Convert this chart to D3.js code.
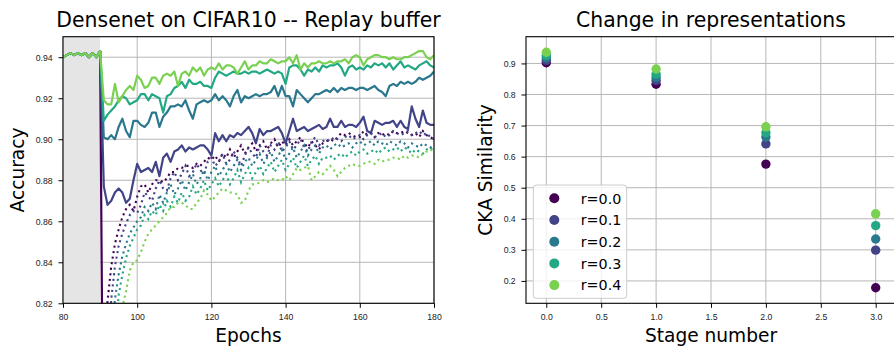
<!DOCTYPE html>
<html>
<head>
<meta charset="utf-8">
<script src="https://cdn.jsdelivr.net/npm/d3@7"></script>
<style>
  html, body { margin: 0; padding: 0; background: #fff; }
  svg { display: block; font-family: "DejaVu Sans", sans-serif; }
  .tick text { font-size: 8.7px; fill: #222; }
  .tick line { stroke: #000; }
</style>
</head>
<body>
<svg id="chart" width="894" height="346"></svg>
<script>
// ---- data ----
var ratios = ["r=0.0", "r=0.1", "r=0.2", "r=0.3", "r=0.4"];
var colors = ["#440154", "#414487", "#2a788e", "#22a884", "#7ad151"];

// epochs 80..90, shared by every run before the switch
var pretrainEpochs = [80, 81, 82, 83, 84, 85, 86, 87, 88, 89, 90];
var pretrainAcc = [0.940, 0.941, 0.942, 0.941, 0.942, 0.941, 0.942, 0.940, 0.942, 0.940, 0.943];

// solid lines, epochs 91..180 (r=0.0 falls below the axis right after the switch)
var solidR0 = [0.700];
var solidR1 = [
  0.877, 0.868, 0.870, 0.874, 0.876, 0.874, 0.869, 0.871, 0.880, 0.888,
  0.884, 0.885, 0.886, 0.884, 0.889, 0.882, 0.891, 0.893, 0.889, 0.894,
  0.895, 0.897, 0.894, 0.896, 0.895, 0.896, 0.897, 0.897, 0.895, 0.892,
  0.903, 0.899, 0.902, 0.899, 0.902, 0.901, 0.903, 0.902, 0.904, 0.906,
  0.903, 0.898, 0.905, 0.902, 0.904, 0.904, 0.905, 0.906, 0.903, 0.898,
  0.904, 0.910, 0.904, 0.905, 0.906, 0.904, 0.905, 0.906, 0.907, 0.905,
  0.906, 0.910, 0.906, 0.906, 0.909, 0.906, 0.907, 0.907, 0.906, 0.908,
  0.911, 0.904, 0.903, 0.909, 0.908, 0.907, 0.908, 0.908, 0.909, 0.906,
  0.909, 0.906, 0.905, 0.916, 0.910, 0.906, 0.914, 0.908, 0.907, 0.907];
var solidR2 = [
  0.901, 0.900, 0.902, 0.900, 0.906, 0.910, 0.904, 0.901, 0.909, 0.909,
  0.907, 0.906, 0.908, 0.913, 0.913, 0.906, 0.911, 0.913, 0.916, 0.916,
  0.917, 0.916, 0.919, 0.914, 0.910, 0.917, 0.918, 0.919, 0.918, 0.919,
  0.922, 0.919, 0.921, 0.919, 0.916, 0.921, 0.924, 0.918, 0.921, 0.920,
  0.921, 0.922, 0.921, 0.922, 0.922, 0.923, 0.926, 0.921, 0.926, 0.921,
  0.921, 0.916, 0.924, 0.922, 0.920, 0.918, 0.920, 0.922, 0.922, 0.923,
  0.924, 0.923, 0.925, 0.923, 0.925, 0.924, 0.925, 0.925, 0.924, 0.925,
  0.925, 0.924, 0.925, 0.926, 0.924, 0.923, 0.921, 0.926, 0.927, 0.926,
  0.928, 0.927, 0.928, 0.927, 0.928, 0.930, 0.929, 0.930, 0.931, 0.933];
var solidR3 = [
  0.909, 0.912, 0.914, 0.916, 0.919, 0.921, 0.920, 0.917, 0.918, 0.919,
  0.922, 0.922, 0.919, 0.922, 0.921, 0.920, 0.913, 0.921, 0.922, 0.925,
  0.926, 0.928, 0.925, 0.929, 0.927, 0.927, 0.928, 0.926, 0.926, 0.925,
  0.930, 0.933, 0.932, 0.931, 0.932, 0.933, 0.932, 0.932, 0.933, 0.932,
  0.933, 0.933, 0.932, 0.933, 0.934, 0.933, 0.932, 0.933, 0.932, 0.927,
  0.935, 0.936, 0.936, 0.934, 0.931, 0.934, 0.933, 0.935, 0.933, 0.936,
  0.935, 0.936, 0.936, 0.937, 0.935, 0.931, 0.935, 0.936, 0.934, 0.935,
  0.934, 0.936, 0.935, 0.937, 0.936, 0.937, 0.935, 0.937, 0.934, 0.936,
  0.938, 0.935, 0.936, 0.935, 0.934, 0.936, 0.937, 0.938, 0.936, 0.935];
var solidR4 = [
  0.919, 0.917, 0.917, 0.927, 0.918, 0.921, 0.924, 0.926, 0.924, 0.931,
  0.929, 0.925, 0.926, 0.930, 0.930, 0.927, 0.931, 0.932, 0.931, 0.933,
  0.926, 0.932, 0.933, 0.931, 0.935, 0.933, 0.935, 0.931, 0.934, 0.935,
  0.934, 0.937, 0.934, 0.936, 0.936, 0.935, 0.932, 0.935, 0.938, 0.934,
  0.936, 0.936, 0.938, 0.937, 0.937, 0.939, 0.938, 0.937, 0.938, 0.938,
  0.940, 0.937, 0.941, 0.934, 0.937, 0.935, 0.937, 0.937, 0.938, 0.937,
  0.937, 0.938, 0.937, 0.938, 0.938, 0.939, 0.937, 0.940, 0.941, 0.940,
  0.936, 0.939, 0.940, 0.941, 0.941, 0.940, 0.940, 0.939, 0.940, 0.939,
  0.939, 0.940, 0.940, 0.941, 0.942, 0.943, 0.943, 0.940, 0.939, 0.941];

// dotted lines, epochs 91..180 (first values lie below the axis)
var dottedR0 = [
  0.760, 0.821, 0.838, 0.849, 0.856, 0.862, 0.866, 0.868, 0.865, 0.872,
  0.877, 0.878, 0.874, 0.878, 0.880, 0.880, 0.879, 0.881, 0.884, 0.884,
  0.886, 0.886, 0.887, 0.887, 0.886, 0.888, 0.887, 0.889, 0.891, 0.890,
  0.892, 0.889, 0.893, 0.891, 0.895, 0.891, 0.894, 0.897, 0.893, 0.896,
  0.898, 0.894, 0.897, 0.899, 0.895, 0.898, 0.900, 0.896, 0.899, 0.897,
  0.900, 0.897, 0.899, 0.901, 0.898, 0.896, 0.899, 0.897, 0.895, 0.898,
  0.899, 0.900, 0.899, 0.901, 0.903, 0.902, 0.903, 0.902, 0.901, 0.901,
  0.904, 0.902, 0.903, 0.901, 0.903, 0.902, 0.903, 0.902, 0.904, 0.903,
  0.903, 0.904, 0.903, 0.902, 0.903, 0.901, 0.904, 0.902, 0.901, 0.900];
var dottedR1 = [
  0.700, 0.790, 0.822, 0.838, 0.848, 0.854, 0.859, 0.863, 0.865, 0.864,
  0.868, 0.874, 0.872, 0.870, 0.876, 0.880, 0.876, 0.875, 0.881, 0.884,
  0.880, 0.883, 0.887, 0.882, 0.884, 0.888, 0.885, 0.883, 0.889, 0.891,
  0.887, 0.889, 0.893, 0.888, 0.890, 0.894, 0.891, 0.887, 0.892, 0.896,
  0.893, 0.891, 0.897, 0.894, 0.892, 0.897, 0.895, 0.899, 0.894, 0.896,
  0.899, 0.895, 0.897, 0.900, 0.896, 0.894, 0.899, 0.901, 0.897, 0.899,
  0.900, 0.899, 0.901, 0.900, 0.899, 0.901, 0.902, 0.900, 0.901, 0.902,
  0.900, 0.902, 0.903, 0.901, 0.902, 0.903, 0.901, 0.902, 0.904, 0.903,
  0.902, 0.903, 0.904, 0.902, 0.903, 0.904, 0.902, 0.903, 0.901, 0.900];
var dottedR2 = [
  0.640, 0.720, 0.800, 0.822, 0.834, 0.843, 0.849, 0.854, 0.857, 0.860,
  0.862, 0.867, 0.865, 0.869, 0.866, 0.873, 0.869, 0.874, 0.878, 0.873,
  0.876, 0.880, 0.875, 0.879, 0.883, 0.878, 0.881, 0.885, 0.880, 0.884,
  0.887, 0.882, 0.885, 0.888, 0.884, 0.887, 0.890, 0.885, 0.889, 0.891,
  0.887, 0.890, 0.893, 0.888, 0.891, 0.894, 0.889, 0.892, 0.895, 0.890,
  0.893, 0.896, 0.891, 0.894, 0.897, 0.892, 0.895, 0.897, 0.893, 0.896,
  0.897, 0.895, 0.897, 0.898, 0.896, 0.897, 0.898, 0.896, 0.898, 0.899,
  0.897, 0.898, 0.899, 0.897, 0.899, 0.898, 0.897, 0.899, 0.898, 0.897,
  0.899, 0.898, 0.896, 0.898, 0.897, 0.896, 0.898, 0.897, 0.896, 0.897];
var dottedR3 = [
  0.600, 0.680, 0.750, 0.800, 0.824, 0.834, 0.842, 0.848, 0.852, 0.856,
  0.858, 0.863, 0.861, 0.865, 0.863, 0.868, 0.865, 0.870, 0.867, 0.872,
  0.869, 0.874, 0.870, 0.872, 0.877, 0.873, 0.876, 0.880, 0.875, 0.878,
  0.881, 0.877, 0.880, 0.883, 0.878, 0.881, 0.885, 0.879, 0.883, 0.886,
  0.881, 0.884, 0.887, 0.883, 0.886, 0.889, 0.884, 0.887, 0.890, 0.885,
  0.888, 0.891, 0.886, 0.889, 0.892, 0.887, 0.890, 0.892, 0.888, 0.891,
  0.891, 0.892, 0.890, 0.892, 0.893, 0.891, 0.893, 0.894, 0.892, 0.894,
  0.895, 0.893, 0.894, 0.895, 0.893, 0.895, 0.896, 0.894, 0.895, 0.896,
  0.894, 0.896, 0.895, 0.893, 0.895, 0.894, 0.893, 0.895, 0.896, 0.894];
var dottedR4 = [
  0.550, 0.630, 0.700, 0.760, 0.800, 0.818, 0.826, 0.836, 0.840, 0.841,
  0.845, 0.850, 0.854, 0.856, 0.858, 0.860, 0.862, 0.864, 0.867, 0.867,
  0.869, 0.869, 0.868, 0.866, 0.866, 0.869, 0.871, 0.875, 0.873, 0.870,
  0.872, 0.874, 0.876, 0.875, 0.874, 0.874, 0.873, 0.869, 0.870, 0.875,
  0.878, 0.878, 0.879, 0.880, 0.879, 0.880, 0.881, 0.880, 0.880, 0.882,
  0.880, 0.883, 0.886, 0.885, 0.886, 0.887, 0.880, 0.882, 0.884, 0.883,
  0.885, 0.887, 0.885, 0.882, 0.884, 0.886, 0.887, 0.888, 0.887, 0.887,
  0.888, 0.889, 0.889, 0.888, 0.890, 0.889, 0.890, 0.890, 0.891, 0.891,
  0.890, 0.892, 0.891, 0.892, 0.892, 0.891, 0.893, 0.894, 0.895, 0.894];

var switchEpoch = 90;
var accXTicks = [80, 100, 120, 140, 160, 180];
var accYTicks = [0.82, 0.84, 0.86, 0.88, 0.90, 0.92, 0.94];

// CKA similarity per stage, one array per ratio
var stages = [0, 1, 2, 3];
var ckaR0 = [0.902, 0.833, 0.576, 0.178];
var ckaR1 = [0.910, 0.845, 0.641, 0.299];
var ckaR2 = [0.918, 0.855, 0.663, 0.335];
var ckaR3 = [0.926, 0.865, 0.677, 0.378];
var ckaR4 = [0.936, 0.882, 0.696, 0.416];
var ckaXTicks = [0.0, 0.5, 1.0, 1.5, 2.0, 2.5, 3.0];
var ckaYTicks = [0.2, 0.3, 0.4, 0.5, 0.6, 0.7, 0.8, 0.9];

var solids = [solidR0, solidR1, solidR2, solidR3, solidR4];
var dotteds = [dottedR0, dottedR1, dottedR2, dottedR3, dottedR4];
var ckas = [ckaR0, ckaR1, ckaR2, ckaR3, ckaR4];

// ---- drawing ----
var svg = d3.select("#chart");
var plotTop = 36.7, plotH = 266.6;
var gridColor = "#b7b7b7";

function toPoints(values) {
  return values.map(function (v, i) {
    return { x: switchEpoch + 1 + i, y: v };
  });
}
var pretrain = pretrainEpochs.map(function (e, i) {
  return { x: e, y: pretrainAcc[i] };
});

function drawFrame(g, x, y, xTicks, yTicks, xFmt, yFmt) {
  var w = x.range()[1] - x.range()[0];
  g.append("g").selectAll("line").data(xTicks).enter().append("line")
    .attr("x1", function (d) { return x(d); }).attr("x2", function (d) { return x(d); })
    .attr("y1", 0).attr("y2", plotH)
    .style("stroke", gridColor).style("stroke-width", 1);
  g.append("g").selectAll("line").data(yTicks).enter().append("line")
    .attr("x1", 0).attr("x2", w)
    .attr("y1", function (d) { return y(d); }).attr("y2", function (d) { return y(d); })
    .style("stroke", gridColor).style("stroke-width", 1);

  g.append("g").attr("transform", "translate(0," + plotH + ")")
    .call(d3.axisBottom(x).tickValues(xTicks).tickFormat(xFmt).tickSize(4.5).tickPadding(6))
    .call(function (a) { a.select(".domain").remove(); });
  g.append("g")
    .call(d3.axisLeft(y).tickValues(yTicks).tickFormat(yFmt).tickSize(4.5).tickPadding(5.8))
    .call(function (a) { a.select(".domain").remove(); });
}

function drawSpines(g, w) {
  g.append("rect").attr("x", 0).attr("y", 0).attr("width", w).attr("height", plotH)
    .style("fill", "none").style("stroke", "#000").style("stroke-width", 1.1);
}

function label(text, x, y, size, rotate) {
  var t = svg.append("text").attr("text-anchor", "middle")
    .style("font-size", size + "px").style("fill", "#000").text(text);
  if (rotate) t.attr("transform", "translate(" + x + "," + y + ") rotate(-90)");
  else t.attr("x", x).attr("y", y);
}

// left panel: accuracy
var leftX0 = 63, leftW = 371;
var x1 = d3.scaleLinear().domain([80, 180]).range([0, leftW]);
var y1 = d3.scaleLinear().domain([0.82, 0.95]).range([plotH, 0]);
var g1 = svg.append("g").attr("transform", "translate(" + leftX0 + "," + plotTop + ")");

drawFrame(g1, x1, y1, accXTicks, accYTicks, d3.format("d"), d3.format(".2f"));

g1.append("rect")
  .attr("x", x1(80)).attr("y", 0)
  .attr("width", x1(switchEpoch) - x1(80)).attr("height", plotH)
  .style("fill", "#e5e5e5");

svg.append("clipPath").attr("id", "clipAcc")
  .append("rect").attr("x", 0).attr("y", 0).attr("width", leftW).attr("height", plotH);

var accLine = d3.line()
  .x(function (d) { return x1(d.x); })
  .y(function (d) { return y1(d.y); });

var lines = g1.append("g").attr("clip-path", "url(#clipAcc)");
ratios.forEach(function (r, i) {
  lines.append("path")
    .attr("d", accLine(pretrain.concat(toPoints(solids[i]))))
    .style("fill", "none").style("stroke", colors[i])
    .style("stroke-width", 2.2).style("stroke-linejoin", "round");
  lines.append("path")
    .attr("d", accLine(toPoints(dotteds[i])))
    .style("fill", "none").style("stroke", colors[i])
    .style("stroke-width", 2.1).style("stroke-dasharray", "2.1,3.5");
});

drawSpines(g1, leftW);
label("Densenet on CIFAR10 -- Replay buffer", leftX0 + leftW / 2, 27, 20.4);
label("Epochs", leftX0 + leftW / 2, 341.5, 18.6);
label("Accuracy", 23.5, plotTop + plotH / 2, 18.6, true);

// right panel: CKA similarity
var rightX0 = 526, rightW = 370;
var x2 = d3.scaleLinear().domain([-0.185, 3.185]).range([0, rightW]);
var y2 = d3.scaleLinear().domain([0.128, 0.986]).range([plotH, 0]);
var g2 = svg.append("g").attr("transform", "translate(" + rightX0 + "," + plotTop + ")");

drawFrame(g2, x2, y2, ckaXTicks, ckaYTicks, d3.format(".1f"), d3.format(".1f"));

ratios.forEach(function (r, i) {
  g2.append("g").selectAll("circle").data(ckas[i]).enter().append("circle")
    .attr("cx", function (d, j) { return x2(stages[j]); })
    .attr("cy", function (d) { return y2(d); })
    .attr("r", 4.7)
    .style("fill", colors[i]);
});

drawSpines(g2, rightW);
label("Change in representations", rightX0 + rightW / 2, 27, 20.4);
label("Stage number", rightX0 + rightW / 2, 341.5, 18.6);
label("CKA Similarity", 491.5, plotTop + plotH / 2, 18.6, true);

// legend
var legend = svg.append("g").attr("transform", "translate(533.3,185)");
legend.append("rect")
  .attr("width", 93.4).attr("height", 113.3).attr("rx", 3)
  .style("fill", "#fff").style("fill-opacity", 0.8)
  .style("stroke", "#cccccc").style("stroke-width", 1);
ratios.forEach(function (r, i) {
  var cy = 13.3 + i * 21.7;
  legend.append("circle").attr("cx", 21).attr("cy", cy).attr("r", 5).style("fill", colors[i]);
  legend.append("text").attr("x", 47.4).attr("y", cy + 5.2)
    .style("font-size", "14.3px").style("fill", "#000").text(r);
});
</script>
</body>
</html>
